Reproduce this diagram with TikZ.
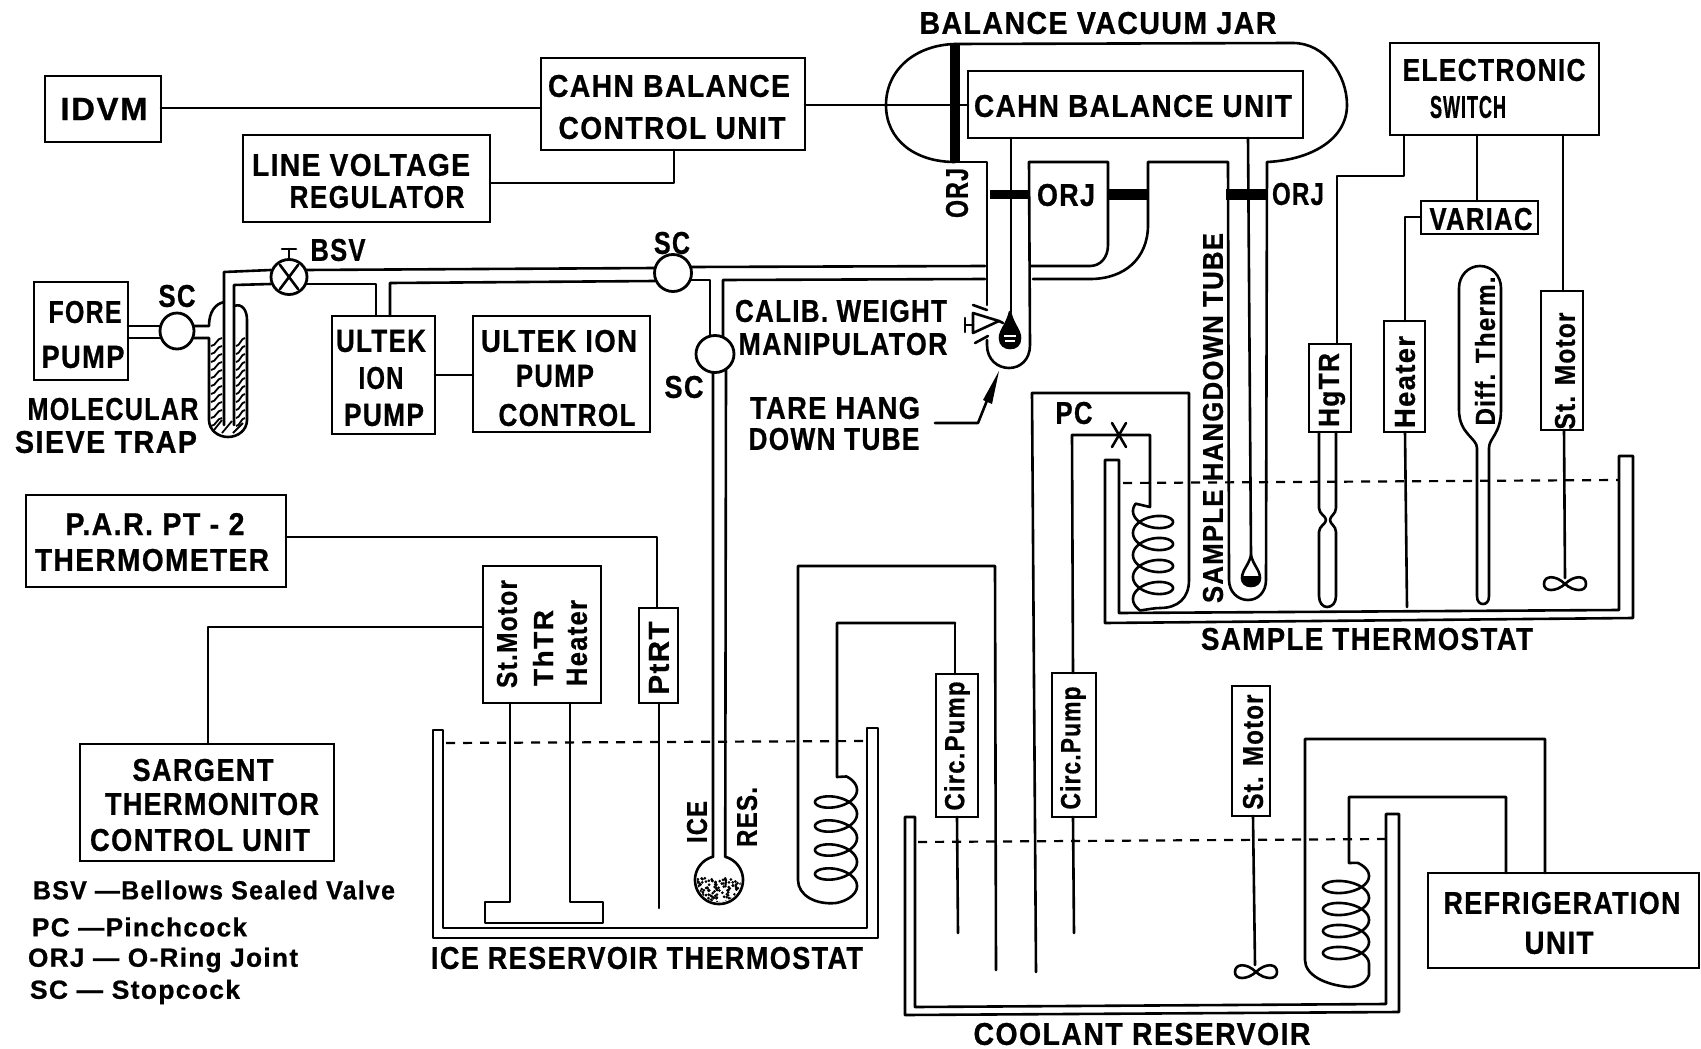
\documentclass[tikz,border=0pt]{standalone}
\usepackage{graphicx}
\usepackage{fontspec}
\setmainfont{Liberation Sans}[BoldFont={Liberation Sans Bold},BoldFeatures={FakeBold=0.8},LetterSpace=5]
\usetikzlibrary{shapes.geometric,calc}
\tikzset{
  ln/.style={line width=2.6pt,line cap=round,line join=round},
  box/.style={draw,line width=2.7pt,inner sep=0pt,outer sep=0pt,anchor=north west,fill=white},
  lab/.style={inner sep=0pt,outer sep=0pt,font=\bfseries\fontsize{30}{32}\selectfont},
  stop/.style={draw,ellipse,line width=2.8pt,fill=white,inner sep=0pt,outer sep=0pt},
  joint/.style={line width=11pt,line cap=butt},
  water/.style={line width=2.2pt,dash pattern=on 9pt off 8pt},
  tinyln/.style={line width=1.8pt},
}
% box: name, x1,y1,x2,y2
\newcommand\bx[5]{%
  \pgfmathsetmacro\bw{#4-#2}\pgfmathsetmacro\bh{#5-#3}%
  \node[box,minimum width=\bw pt,minimum height=\bh pt] (#1) at (#2,#3) {};}
% label: [opts] name, x, y, width, height, text
\newcommand\mylab[7][]{\node[lab,#1] (#2) at (#3,#4) {\resizebox{#5pt}{#6pt}{#7}};}
\newcommand\propeller[2]{%
  \draw[ln] (#1,#2) .. controls (#1+9,#2-9) and (#1+21,#2-9) .. (#1+21,#2) .. controls (#1+21,#2+8) and (#1+9,#2+8) .. (#1,#2)
    .. controls (#1-9,#2-9) and (#1-21,#2-9) .. (#1-21,#2) .. controls (#1-21,#2+8) and (#1-9,#2+8) .. (#1,#2);}
\begin{document}
\begin{tikzpicture}[x=1pt,y=-1pt]
\useasboundingbox (0,0) rectangle (1701,1049);
\fill[white] (0,0) rectangle (1701,1049);

% ---------- connectors behind boxes / upper pipework
\bx{idvm}{45}{76}{161}{142}
\bx{cbcu}{541}{58}{805}{150}
\bx{lvr}{243}{135}{490}{222}
\bx{cbu}{968}{71}{1303}{138}
\bx{eswitch}{1390}{43}{1599}{135}
\bx{variac}{1421}{201}{1538}{234}
\bx{fore}{34}{282}{128}{380}
\bx{uip}{332}{316}{435}{434}
\bx{uipc}{473}{316}{650}{432}
\bx{par}{26}{495}{286}{587}
\bx{sarg}{80}{744}{334}{861}
\bx{ims}{483}{566}{601}{703}
\bx{ptrt}{639}{608}{678}{703}
\bx{refrig}{1428}{873}{1699}{968}

\draw[ln] (idvm.east |- 0,108) -- (cbcu.west |- 0,108);
\draw[ln] (cbcu.east |- 0,105) -- (cbu.west |- 0,105);
\draw[ln] (lvr.east |- 0,183) -| (cbcu.south -| 674,0);
\draw[ln] (uip.east |- 0,375) -- (uipc.west |- 0,375);
\draw[ln] (par.east |- 0,537) -| (ptrt.north -| 657,0);
\draw[ln] (ims.west |- 0,627) -| (sarg.north -| 208,0);
\draw[ln] (eswitch.south -| 1477,0) -- (variac.north -| 1477,0);

% ---------- balance vacuum jar
\draw[ln] (955,44) .. controls (915,45) and (886,70) .. (886,105) .. controls (886,140) and (915,162) .. (955,162);
\draw[ln] (955,44) -- (1293,43) .. controls (1325,43) and (1347,75) .. (1347,105) .. controls (1347,140) and (1310,160) .. (1267,162)
  -- (1266,580) .. controls (1266,592) and (1258,600) .. (1248,600) .. controls (1238,600) and (1229,592) .. (1229,580)
  -- (1228,162) -- (1148,162) -- (1148,225) .. controls (1148,258) and (1125,279) .. (1090,279) -- (1033,279);
\draw[ln] (955,162) -- (987,162) -- (987,305);
\draw[ln] (987,340) -- (987,345) .. controls (987,360) and (998,368) .. (1009,368) .. controls (1020,368) and (1030,360) .. (1030,345)
  -- (1029,162) -- (1108,162) -- (1108,245) .. controls (1108,258) and (1100,266) .. (1090,266) -- (1030,266);
\draw[line width=10pt] (955,44) -- (955,163);
\draw[joint,line width=9pt] (990,194) -- (1030,194);
\draw[joint] (1108,194) -- (1148,194);
\draw[joint] (1226,194) -- (1267,194);
% balance hang-down wires
\draw[ln] (cbu.south -| 1011,0) -- (1011,312);
\draw[ln] (cbu.south -| 1248,0) -- (1251,555);
\draw[ln,fill=black] (1010,312) .. controls (1007,325) and (1000,330) .. (1000,338) .. controls (1000,345) and (1005,348) .. (1010,348) .. controls (1016,348) and (1020,345) .. (1020,338) .. controls (1020,330) and (1013,325) .. (1010,312) -- cycle;
\draw[white,line width=1.2pt] (1004,336) -- (1016,336) (1005,341) -- (1015,341);
\draw[ln] (1251,555) .. controls (1249,565) and (1242,570) .. (1242,578) .. controls (1242,583) and (1246,586) .. (1251,586) .. controls (1256,586) and (1260,583) .. (1260,578) .. controls (1260,570) and (1253,565) .. (1251,555) -- cycle;
\fill (1243,576) -- (1259,576) .. controls (1260,583) and (1256,586) .. (1251,586) .. controls (1246,586) and (1242,583) .. (1243,576) -- cycle;
% weight manipulator
\draw[ln] (973,313) -- (999,321) -- (973,333) -- cycle;
\draw[ln] (999,321) -- (1003,323);
\draw[ln] (965,325) -- (973,325) (965,318) -- (965,332);
\draw[ln] (973,305) -- (987,310);
\draw[ln] (975,343) -- (988,336);
% tare arrow
\draw[ln] (935,423) -- (978,423) -- (988,398);
\fill (999,371) -- (992,404) -- (983,400) -- cycle;

% ---------- vacuum manifold
\draw[ln] (128,326) -- (160,326) (128,338) -- (160,338);
\draw[ln] (193,326) -- (209,326) .. controls (209,312) and (215,304) .. (224,302);
\draw[ln] (193,338) -- (209,338) -- (209,420) .. controls (209,430) and (218,437) .. (228,437) .. controls (238,437) and (247,430) .. (247,420) -- (247,320) .. controls (247,310) and (242,303) .. (234,306);
\draw[ln] (224,425) -- (224,272) -- (271,270);
\draw[ln] (234,425) -- (234,285) -- (271,284);
\foreach \yy in {340,348,...,420}{
  \draw[tinyln] (211,\yy+6) .. controls (216,\yy+6) and (217,\yy-2) .. (222,\yy-2);
  \draw[tinyln] (236,\yy+6) .. controls (240,\yy+6) and (241,\yy-2) .. (245,\yy-2);
}
\draw[tinyln] (214,430) -- (222,420) (222,433) -- (232,421) (233,433) -- (243,423);
\draw[ln] (305,270) -- (655,268);
\draw[ln] (305,284) -- (376,284) -- (uip.north -| 376,0);
\draw[ln] (uip.north -| 390,0) -- (390,283) -- (655,281);
\draw[ln] (690,267) -- (985,266);
\draw[ln] (690,280) -- (710,280) -- (710,337);
\draw[ln] (723,337) -- (723,280) -- (985,279);
% ice reservoir tube
\draw[ln] (713,370) -- (713,857) -- plot[domain=255:-75,samples=70,variable=\t] ({719+24*cos(\t)},{880+24*sin(\t)}) -- (726,370);
\begin{scope}
  \clip (719,880) circle[radius=22pt];
  \pgfmathsetseed{7}
  \foreach \i in {1,...,130}{
    \pgfmathsetmacro\dx{719+44*rnd-22}\pgfmathsetmacro\dy{878+rnd*26}
    \fill (\dx,\dy) circle[radius=1.5pt];
  }
\end{scope}

\node[stop,minimum width=34pt,minimum height=36pt] (sca) at (177,331) {};
\node[stop,minimum width=36pt,minimum height=35pt] (bsv) at (289,277) {};
\draw[ln] (280,265) -- (298,289) (298,265) -- (280,289);
\draw[ln] (bsv.north) -- (289,249) (282,249) -- (296,249);
\node[stop,minimum width=37pt,minimum height=37pt] (scb) at (673,273) {};
\node[stop,minimum width=38pt,minimum height=37pt] (scc) at (715,354) {};

% ---------- ice reservoir thermostat
\draw[ln] (433,730) -- (443,730) -- (443,928) -- (867,928) -- (867,728) -- (878,728) -- (878,938) -- (433,938) -- cycle;
\draw[water] (446,743) -- (866,741);
\draw[ln] (ims.south -| 510,0) -- (510,902) -- (485,902) -- (485,923) -- (603,923) -- (603,902) -- (570,902) -- (ims.south -| 570,0);
\draw[ln] (ptrt.south -| 659,0) -- (659,908);
\draw[ln] (996,970) -- (995,566) -- (798,566) -- (798,880) .. controls (798,895) and (815,905) .. (836,903)
   -- plot[domain=1530:-60,samples=280,variable=\t] ({836+21*cos(\t)},{790+\t/15+11*sin(\t)})
   -- (837,777) -- (837,623) -- (955,623);
% ---------- coolant reservoir
\draw[ln] (905,817) -- (915,817) -- (915,1007) -- (1386,1004) -- (1386,814) -- (1399,814) -- (1399,1012) -- (905,1015) -- cycle;
\draw[water] (918,842) -- (1385,839);
\bx{cpa}{936}{674}{978}{817}
\draw[ln] (cpa.north -| 955,0) -- (955,623);
\draw[ln] (cpa.south -| 957,0) -- (958,933);
\bx{cpb}{1052}{673}{1096}{817}
\draw[ln] (cpb.north -| 1073,0) -- (1072,435) -- (1150,435) -- (1150,507)
   -- plot[domain=-30:1490,samples=280,variable=\t] ({1153-20*cos(\t)},{511+\t/360*22+11*sin(\t)})
   .. controls (1150,609) and (1155,608) .. (1160,608) .. controls (1178,608) and (1189,598) .. (1189,580) -- (1189,393) -- (1032,393) -- (1036,972);
\draw[ln] (cpb.south -| 1073,0) -- (1074,933);
\bx{smc}{1232}{686}{1270}{816}
\draw[ln] (smc.south -| 1253,0) -- (1255,965);
\propeller{1256}{972}
\draw[ln] (refrig.north -| 1545,0) -- (1545,739) -- (1305,739) -- (1305,960) .. controls (1305,975) and (1325,985) .. (1349,987)
   .. controls (1356,987) and (1366,984) .. (1369,975)
   -- plot[domain=1440:-60,samples=280,variable=\t] ({1346+23*cos(\t)},{876+\t/360*22+11*sin(\t)})
   -- (1349,863) -- (1349,797) -- (1506,797) -- (refrig.north -| 1506,0);

% ---------- sample thermostat
\draw[ln] (1105,460) -- (1119,460) -- (1119,613) -- (1619,610) -- (1619,456) -- (1633,456) -- (1633,618) -- (1105,623) -- cycle;
\draw[water] (1123,483) -- (1619,480);
\draw[ln] (1112,423) -- (1126,447) (1126,423) -- (1112,447);
\bx{hg}{1309}{344}{1351}{432}
\draw[ln] (1319,432) -- (1319,508) .. controls (1319,514) and (1326,516) .. (1326,520) .. controls (1326,524) and (1319,526) .. (1319,532) -- (1319,596)
   .. controls (1319,603) and (1323,607) .. (1327,607) .. controls (1332,607) and (1336,603) .. (1336,596) -- (1336,532) .. controls (1336,526) and (1330,524) .. (1330,520) .. controls (1330,516) and (1336,514) .. (1336,508) -- (1336,432);
\draw[ln] (eswitch.south -| 1404,0) -- (1404,176) -- (1337,176) -- (hg.north -| 1337,0);
\bx{heat}{1384}{321}{1425}{432}
\draw[ln] (heat.north -| 1405,0) -- (1405,217) -- (variac.west |- 0,217);
\draw[ln] (heat.south -| 1405,0) -- (1407,607);
\draw[ln] (1477,596) -- (1477,448) .. controls (1477,438) and (1459,434) .. (1459,410) -- (1459,288) .. controls (1459,276) and (1468,266) .. (1480,266) .. controls (1492,266) and (1501,276) .. (1501,288) -- (1501,410) .. controls (1501,434) and (1489,438) .. (1489,448) -- (1489,596) .. controls (1489,602) and (1486,604) .. (1483,604) .. controls (1480,604) and (1477,602) .. (1477,596);
\bx{smd}{1541}{291}{1583}{430}
\draw[ln] (eswitch.south -| 1563,0) -- (smd.north -| 1563,0);
\draw[ln] (smd.south -| 1564,0) -- (1565,578);
\propeller{1565}{584}

% ---------- labels
\def\H{22}
\mylab{tidvm}{104}{109}{87}{\H}{IDVM}
\mylab{tjar}{1098}{23}{357}{\H}{BALANCE VACUUM JAR}
\mylab{tcb}{669}{86}{242}{\H}{CAHN BALANCE}
\mylab{tcu}{672}{128}{227}{\H}{CONTROL UNIT}
\mylab{tlv}{361}{165}{218}{\H}{LINE VOLTAGE}
\mylab{treg}{377}{197}{175}{\H}{REGULATOR}
\mylab{tcbu}{1133}{106}{318}{\H}{CAHN BALANCE UNIT}
\mylab{tel}{1494}{70}{183}{\H}{ELECTRONIC}
\mylab{tsw}{1468}{107}{76}{\H}{SWITCH}
\mylab{tvar}{1481}{219}{103}{\H}{VARIAC}
\mylab{torjb}{1066}{195}{58}{\H}{ORJ}
\mylab{torjc}{1298}{194}{52}{\H}{ORJ}
\mylab[rotate=90]{torja}{957}{193}{50}{\H}{ORJ}
\mylab{tfo}{85}{312}{73}{\H}{FORE}
\mylab{tpu}{83}{357}{83}{\H}{PUMP}
\mylab{tsca}{177}{296}{37}{\H}{SC}
\mylab{tbsv}{338}{250}{55}{\H}{BSV}
\mylab{tscb}{672}{243}{36}{\H}{SC}
\mylab{tscc}{684}{387}{39}{\H}{SC}
\mylab{tmol}{113}{409}{171}{\H}{MOLECULAR}
\mylab{tsie}{106}{442}{182}{\H}{SIEVE TRAP}
\mylab{tula}{381}{341}{90}{\H}{ULTEK}
\mylab{tion}{381}{378}{45}{\H}{ION}
\mylab{tpm}{384}{415}{80}{\H}{PUMP}
\mylab{tulb}{559}{341}{156}{\H}{ULTEK ION}
\mylab{tpb}{555}{376}{78}{\H}{PUMP}
\mylab{tcon}{567}{415}{137}{\H}{CONTROL}
\mylab{tcal}{841}{311}{212}{\H}{CALIB. WEIGHT}
\mylab{tman}{843}{344}{209}{\H}{MANIPULATOR}
\mylab{ttar}{835}{408}{170}{\H}{TARE HANG}
\mylab{tdow}{834}{439}{171}{\H}{DOWN TUBE}
\mylab{tpar}{155}{524}{179}{\H}{P.A.R. PT - 2}
\mylab{tthe}{152}{560}{234}{\H}{THERMOMETER}
\mylab{tsar}{203}{770}{141}{\H}{SARGENT}
\mylab{ttm}{212}{804}{214}{\H}{THERMONITOR}
\mylab{tcoun}{200}{840}{220}{\H}{CONTROL UNIT}
\mylab[anchor=west]{tla}{33}{890}{362}{19}{BSV —Bellows Sealed Valve}
\mylab[anchor=west]{tlb}{32}{927}{215}{19}{PC —Pinchcock}
\mylab[anchor=west]{tlc}{28}{960}{270}{19}{ORJ — O-Ring Joint}
\mylab[anchor=west]{tld}{30}{992}{210}{19}{SC — Stopcock}
\mylab{tice}{647}{958}{432}{\H}{ICE RESERVOIR THERMOSTAT}
\mylab{tcool}{1142}{1034}{337}{\H}{COOLANT RESERVOIR}
\mylab{tsam}{1367}{639}{332}{\H}{SAMPLE THERMOSTAT}
\mylab{tref}{1562}{903}{237}{\H}{REFRIGERATION}
\mylab{tuni}{1559}{943}{69}{\H}{UNIT}
\mylab{tpc}{1074}{413}{37}{\H}{PC}
\def\V{20}
\mylab[rotate=90]{vsm}{507}{634}{108}{\V}{St.Motor}
\mylab[rotate=90]{vth}{543}{648}{76}{\V}{ThTR}
\mylab[rotate=90]{vhe}{577}{643}{86}{\V}{Heater}
\mylab[rotate=90]{vpt}{659}{658}{73}{\V}{PtRT}
\mylab[rotate=90]{vic}{697}{822}{42}{\V}{ICE}
\mylab[rotate=90]{vre}{747}{817}{60}{\V}{RES.}
\mylab[rotate=90]{vhg}{1332}{390}{74}{\V}{HgTR}
\mylab[rotate=90]{vha}{1405}{382}{92}{\V}{Heater}
\mylab[rotate=90]{vdi}{1485}{351}{149}{\V}{Diff. Therm.}
\mylab[rotate=90]{vsd}{1565}{371}{117}{\V}{St. Motor}
\mylab[rotate=90]{vca}{957}{746}{129}{\V}{Circ.Pump}
\mylab[rotate=90]{vcb}{1073}{748}{123}{\V}{Circ.Pump}
\mylab[rotate=90]{vsc}{1253}{752}{115}{\V}{St. Motor}
\mylab[rotate=90]{vsh}{1213}{418}{370}{\V}{SAMPLE HANGDOWN TUBE}
\end{tikzpicture}
\end{document}
